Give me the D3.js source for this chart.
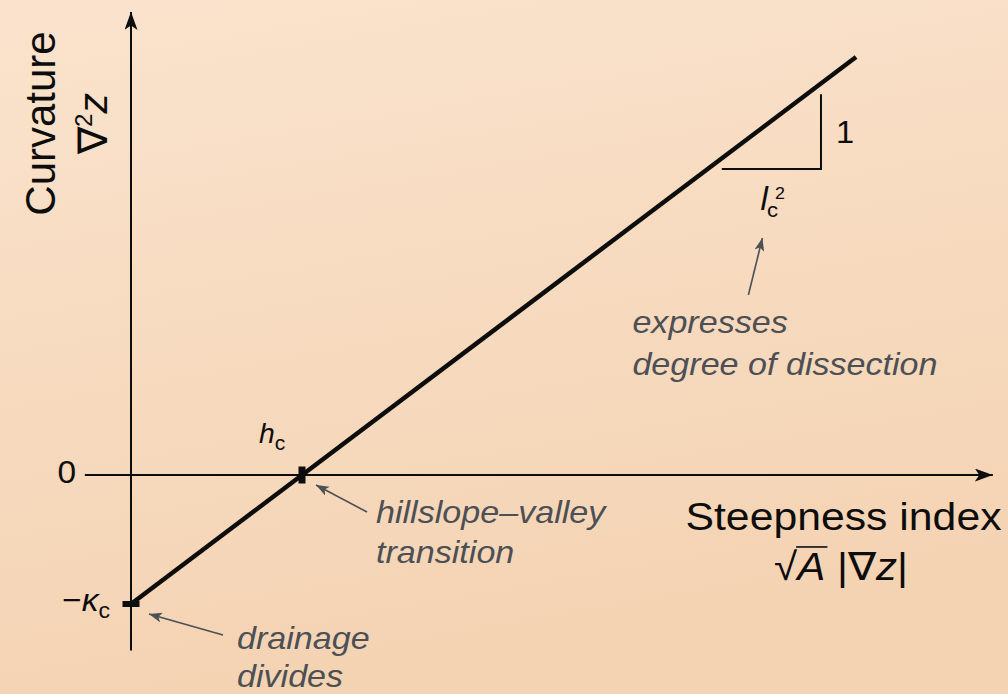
<!DOCTYPE html>
<html>
<head>
<meta charset="utf-8">
<script src="https://cdn.jsdelivr.net/npm/d3@7"></script>
<style>
  html, body { margin: 0; padding: 0; overflow: hidden; }
  svg { display: block; }
  text { font-family: "Liberation Sans", Arial, sans-serif; }
</style>
</head>
<body>
<script>
// Steepness index in units of h_c, curvature in units of kappa_c
const steepness = [0, 4.24];
const curvature = [-1, 3.24];
const axisSpanX = [-0.27, 5.04];
const axisSpanY = [-1.36, 3.59];
// characteristic points: drainage divide (0, -kappa_c) and h_c (1, 0)
const hC = 1;
const kappaC = 1;
// slope triangle: corner position, run = l_c^2, rise = 1
const triCorner = [4.035, 2.372];
const triRun = 0.58;
const triRise = 0.58;

const W = 1008, H = 694;
const INK = "#0d0d0d", NOTE = "#4c5055";

const svg = d3.select("body").append("svg")
  .attr("width", W).attr("height", H);

const defs = svg.append("defs");
const grad = defs.append("linearGradient").attr("id", "bg")
  .attr("x1", "0").attr("y1", "0").attr("x2", "0.25").attr("y2", "1");
grad.append("stop").attr("offset", "0").attr("stop-color", "#fae3cd");
grad.append("stop").attr("offset", "1").attr("stop-color", "#f4d3b3");
svg.append("rect").attr("width", W).attr("height", H).attr("fill", "url(#bg)");

const x = d3.scaleLinear().domain([0, 1]).range([131, 302]);
const y = d3.scaleLinear().domain([0, -1]).range([475, 604]);

// arrowheads
function headMarker(id, color, len, half) {
  defs.append("marker").attr("id", id)
    .attr("viewBox", `0 ${-half} ${len} ${2 * half}`)
    .attr("refX", len).attr("refY", 0)
    .attr("markerUnits", "userSpaceOnUse")
    .attr("markerWidth", len).attr("markerHeight", 2 * half)
    .attr("orient", "auto")
    .append("path").attr("d", `M0,${-half}L${len},0L0,${half}L${len * 0.25},0Z`).attr("fill", color);
}
headMarker("axHead", INK, 18, 6.5);
headMarker("noteHead", NOTE, 13, 5);

// axes
svg.append("line")
  .attr("x1", x(axisSpanX[0])).attr("x2", x(axisSpanX[1]))
  .attr("y1", y(0)).attr("y2", y(0))
  .attr("stroke", INK).attr("stroke-width", 2).attr("marker-end", "url(#axHead)");
svg.append("line")
  .attr("x1", x(0)).attr("x2", x(0))
  .attr("y1", y(axisSpanY[0])).attr("y2", y(axisSpanY[1]))
  .attr("stroke", INK).attr("stroke-width", 2).attr("marker-end", "url(#axHead)");

// curvature vs steepness relation
const pts = steepness.map((s, i) => [s, curvature[i]]);
svg.append("path")
  .attr("d", d3.line().x(d => x(d[0])).y(d => y(d[1]))(pts))
  .attr("fill", "none").attr("stroke", INK).attr("stroke-width", 4.5);

// markers at h_c and -kappa_c
svg.append("rect")
  .attr("x", x(hC) - 3.5).attr("y", y(0) - 8.5).attr("width", 7).attr("height", 17)
  .attr("fill", INK);
svg.append("rect")
  .attr("x", x(0) - 8.5).attr("y", y(-kappaC) - 3).attr("width", 17).attr("height", 6)
  .attr("fill", INK);

// slope triangle
svg.append("path")
  .attr("d", d3.line().x(d => x(d[0])).y(d => y(d[1]))([
    [triCorner[0] - triRun, triCorner[1]],
    triCorner,
    [triCorner[0], triCorner[1] + triRise]
  ]))
  .attr("fill", "none").attr("stroke", INK).attr("stroke-width", 2);

// text helper: horizontally stretched type
function txt(px, py, opts) {
  const o = Object.assign({ size: 31, sx: 1.1, anchor: "start", fill: INK, italic: false, rot: 0 }, opts);
  return svg.append("text")
    .attr("transform", `translate(${px},${py}) rotate(${o.rot}) scale(${o.sx},1)`)
    .attr("font-size", o.size)
    .attr("text-anchor", o.anchor)
    .attr("font-style", o.italic ? "italic" : "normal")
    .attr("fill", o.fill);
}

// y-axis title
txt(55, 123.5, { size: 42, sx: 1, anchor: "middle", rot: -90 }).text("Curvature");
const yl = txt(107, 123.5, { size: 41, sx: 1, anchor: "middle", rot: -90 });
yl.append("tspan").text("\u2207");
yl.append("tspan").attr("font-size", 24).attr("dy", -15).text("2");
yl.append("tspan").attr("dy", 15).attr("font-style", "italic").text("z");

// x-axis title
txt(843.5, 530, { size: 38, sx: 1.125, anchor: "middle" }).text("Steepness index");
const xl = txt(841, 580, { size: 39, sx: 1.08, anchor: "middle" });
xl.append("tspan").text("\u221A");
xl.append("tspan").attr("font-style", "italic").text("A");
xl.append("tspan").text(" |\u2207");
xl.append("tspan").attr("font-style", "italic").text("z");
xl.append("tspan").text("|");
// vinculum over A
{
  const node = xl.node();
  const r = node.getExtentOfChar(0), a = node.getExtentOfChar(1);
  const t = xl.attr("transform");
  svg.append("line")
    .attr("transform", t)
    .attr("x1", r.x + r.width - 1).attr("x2", a.x + a.width + 2)
    .attr("y1", r.y + 2.5).attr("y2", r.y + 2.5)
    .attr("stroke", INK).attr("stroke-width", 1.6);
}

// value labels
txt(x(0) - 55, y(0) + 8, { size: 31, sx: 1.08, anchor: "end" }).text("0");
const kl = txt(x(0) - 21, y(-kappaC) + 6.5, { size: 32, sx: 1.05, anchor: "end" });
kl.append("tspan").text("\u2212");
kl.append("tspan").attr("font-style", "italic").text("\u03BA");
kl.append("tspan").attr("font-size", 22).attr("dy", 7).text("c");

const hl = txt(x(hC) - 43, y(0) - 32, { size: 27, sx: 1.05 });
hl.append("tspan").attr("font-style", "italic").text("h");
hl.append("tspan").attr("font-size", 20).attr("dy", 7).text("c");

// slope triangle labels
txt(x(triCorner[0]) + 15, y(triCorner[1] + triRise / 2) + 11, { size: 31, sx: 1.05 }).text("1");
const lx = x(triCorner[0] - triRun / 2) - 11, ly = y(triCorner[1]) + 41;
txt(lx, ly, { size: 33, sx: 1.0, italic: true }).text("l");
txt(lx + 6.5, ly + 7, { size: 21, sx: 1.05 }).text("c");
txt(lx + 14.5, ly - 11, { size: 17, sx: 1.05 }).text("2");

// annotations
function note(tip, from, lines, tx, ty, gap) {
  svg.append("line")
    .attr("x1", from[0]).attr("y1", from[1]).attr("x2", tip[0]).attr("y2", tip[1])
    .attr("stroke", NOTE).attr("stroke-width", 1.6).attr("marker-end", "url(#noteHead)");
  lines.forEach((s, i) => txt(tx, ty + i * gap, { size: 31, sx: 1.1, italic: true, fill: NOTE }).text(s));
}
note([x(hC) + 14, y(0) + 10], [x(hC) + 65, y(0) + 37],
  ["hillslope\u2013valley", "transition"], x(hC) + 74, y(0) + 48, 40);
note([x(0) + 18, y(-kappaC) + 10], [x(0) + 92, y(-kappaC) + 31],
  ["drainage", "divides"], x(0) + 106, y(-kappaC) + 45, 38);
note([lx + 2, ly + 28], [lx - 12, ly + 85],
  ["expresses", "degree of dissection"], lx - 128, ly + 123, 42);
</script>
</body>
</html>
